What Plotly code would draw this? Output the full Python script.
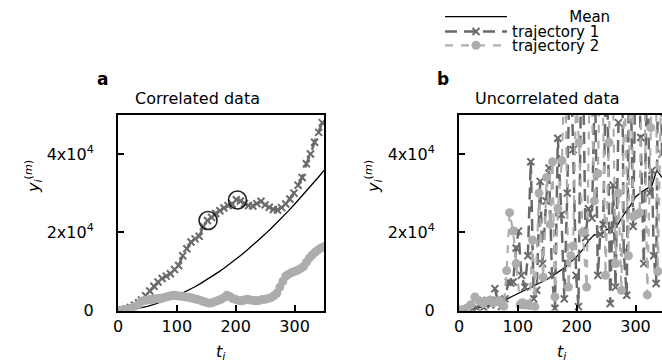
import plotly.graph_objects as go

# ---------------- data ----------------
# Panel a: correlated data
t_a1 = [0, 7, 14, 21, 28, 35, 40, 47, 54, 61, 68, 75, 82, 89, 96, 103, 110, 117, 124, 131,
        138, 145, 152, 159, 166, 173, 180, 187, 194, 201, 208, 215, 222, 229, 236, 243, 250,
        257, 264, 271, 278, 285, 292, 299, 306, 313, 320, 327, 334, 341, 347]
y_a1 = [0, 150, 400, 800, 1400, 2000, 2700, 3800, 5000, 6200, 7300, 8200, 8800, 9400, 10500,
        11500, 14000, 15800, 17500, 18300, 19000, 21500, 23000, 23800, 24800, 25500, 26200,
        26800, 27200, 28300, 28000, 27300, 26800, 26700, 27300, 27900, 27000, 26400, 25800,
        25700, 26300, 27200, 28500, 30000, 32000, 34000, 37500, 40000, 43000, 45500, 48000]

t_a2 = list(range(0, 351, 5))
y_a2 = [0, 100, 200, 300, 500, 800, 1200, 1600, 2400, 2600, 2700, 2800, 2900, 3000, 3100,
        3200, 3400, 3600, 3800, 3900, 3800, 3700, 3600, 3500, 3400, 3200, 3000, 2800, 2600,
        2300, 2100, 1900, 2000, 2300, 2600, 2900, 3300, 3900, 3600, 3100, 2800, 2600, 2500,
        2700, 2900, 2700, 2600, 2500, 2600, 2800, 2900, 3100, 3300, 3800, 4500, 6000, 7500,
        8800, 9300, 9700, 10000, 10300, 10700, 11200, 12300, 13400, 14200, 14900, 15500,
        16000, 16300]

t_mean_a = list(range(0, 351, 10))
y_mean_a = [0, 60, 210, 430, 720, 1080, 1500, 1980, 2510, 3100, 3750, 4460, 5220, 6030,
            6880, 7790, 8750, 9760, 10820, 11920, 13080, 14280, 15520, 16810, 18160, 19530,
            20970, 22440, 23950, 25530, 27140, 28790, 30480, 32200, 33980, 35800]

# highlighted points (circled) in panel a
t_hl = [153, 203]
y_hl = [23000, 28250]

# Panel b: uncorrelated data
t_b1 = [0, 5, 11, 17, 23, 30, 36, 42, 48, 54, 61, 66, 72, 78, 84, 88, 92, 97, 101, 106,
        112, 117, 122, 127, 132, 138, 142, 148, 153, 158, 163, 168, 174, 179, 184, 189,
        194, 199, 203, 209, 215, 220, 226, 231, 236, 240, 245, 251, 257, 262, 266, 271,
        276, 280, 285, 290, 296, 302, 309, 314, 320, 324, 328, 331, 335, 340, 345]
y_b1 = [0, 300, 200, 700, 400, 700, 1500, 800, 2600, 1500, 5600, 2500, 1000, 3000, 7300,
        7000, 7300, 16000, 20300, 9000, 6000, 14000, 38000, 3000, 5200, 33000, 12000,
        28000, 36400, 9000, 600, 44000, 24500, 3000, 30000, 70000, 41100, 9000, 1000,
        80000, 18600, 26000, 23600, 60000, 9000, 19500, 22000, 70000, 1800, 32000, 6000,
        48000, 90000, 15000, 3900, 75000, 21500, 85000, 44200, 12000, 65000, 30000, 35800,
        14000, 6900, 95000, 40000]

t_b2 = [0, 7, 13, 20, 27, 34, 41, 47, 53, 58, 64, 68, 72, 76, 81, 86, 92, 97, 104, 108,
        112, 116, 120, 125, 129, 136, 143, 149, 155, 159, 163, 168, 175, 180, 186, 190,
        194, 199, 204, 210, 217, 223, 230, 236, 242, 249, 255, 260, 266, 271, 276, 281,
        288, 292, 296, 302, 307, 313, 320, 326, 332, 338, 345]
y_b2 = [0, 300, 600, 1500, 3500, 2500, 1800, 2400, 2700, 2000, 2300, 2600, 1800, 1100,
        10200, 25000, 20300, 12000, 1500, 2000, 1400, 1600, 1300, 18000, 1000, 30000, 8500,
        34000, 22000, 38000, 3500, 26000, 38300, 65000, 6000, 14000, 16500, 55000, 42900,
        20000, 6000, 70000, 28000, 35000, 80000, 9000, 42900, 75000, 12000, 30000, 5200,
        60000, 14000, 90000, 24000, 24500, 25000, 85000, 4000, 46700, 100000, 10000, 70000]

t_mean_b = [0, 10, 20, 30, 40, 50, 60, 70, 80, 90, 100, 110, 120, 130, 140, 150, 160, 170,
            180, 190, 200, 210, 220, 230, 240, 250, 260, 270, 280, 290, 300, 310, 320, 328,
            336, 342, 345]
y_mean_b = [0, 100, 300, 600, 900, 1300, 1700, 2200, 2800, 3600, 4300, 5000, 5800, 6500,
            7200, 8000, 9000, 10000, 11000, 12400, 13800, 15500, 17800, 19400, 19100, 20600,
            21400, 22000, 24500, 26500, 29000, 30300, 31200, 32000, 35800, 34500, 34000]

x_ticks = [0, 100, 200, 300]
y_ticks = [0, 20000, 40000]
y_ticktext = ["0", "2x10<sup>4</sup>", "4x10<sup>4</sup>"]

# ---------------- style ----------------
FONT = "DejaVu Sans"
C1 = "#6a6a6a"
C2 = "#adadad"
W, H = 662, 363

def px(x):
    return x / W

def py(y):
    return (H - y) / H

fig = go.Figure()

def add_panel(xa, ya, tm, ym, t1, y1, t2, y2, show):
    fig.add_trace(go.Scatter(x=tm, y=ym, mode="lines", name="\u00a0" * 12 + "Mean",
                             line=dict(color="black", width=1.3), xaxis=xa, yaxis=ya,
                             showlegend=show, legend="legend"))
    fig.add_trace(go.Scatter(x=t1, y=y1, mode="lines+markers", name="trajectory 1",
                             line=dict(color=C1, width=2.5, dash="12px,7px"),
                             marker=dict(symbol="x-thin", size=7, line=dict(width=2, color=C1), color=C1),
                             xaxis=xa, yaxis=ya, showlegend=show, legend="legend2"))
    fig.add_trace(go.Scatter(x=t2, y=y2, mode="lines+markers", name="trajectory 2",
                             line=dict(color=C2, width=2.2, dash="8px,8px"),
                             marker=dict(symbol="circle", size=9, color=C2),
                             xaxis=xa, yaxis=ya, showlegend=show, legend="legend3"))

add_panel("x", "y", t_mean_a, y_mean_a, t_a1, y_a1, t_a2, y_a2, True)
fig.add_trace(go.Scatter(x=t_hl, y=y_hl, mode="markers", showlegend=False,
                         marker=dict(symbol="circle-open", size=18, color="#222222",
                                     line=dict(width=1.6, color="#222222")),
                         xaxis="x", yaxis="y"))
add_panel("x2", "y2", t_mean_b, y_mean_b, t_b1, y_b1, t_b2, y_b2, False)

ydom = [py(310), py(112)]
axis_common = dict(showline=True, linecolor="black", linewidth=2, ticks="inside",
                   ticklen=6, tickwidth=2, tickcolor="black", showgrid=False,
                   zeroline=False, automargin=False,
                   tickfont=dict(family=FONT, size=16, color="black"))

fig.update_layout(
    width=W, height=H, template="none",
    margin=dict(l=0, r=0, t=0, b=0),
    paper_bgcolor="white", plot_bgcolor="white",
    font=dict(family=FONT, size=16, color="black"),
    xaxis=dict(domain=[px(118), px(324)], range=[0, 350], tickvals=x_ticks,
               mirror=True, anchor="y", **axis_common),
    yaxis=dict(domain=ydom, range=[0, 50000], tickvals=y_ticks, ticktext=y_ticktext,
               mirror=True, anchor="x", ticklabelposition="outside",
               ticklabelstandoff=19, **axis_common),
    xaxis2=dict(domain=[px(459), 1.0], range=[0, 345], tickvals=x_ticks,
                mirror=True, anchor="y2", **axis_common),
    yaxis2=dict(domain=ydom, range=[0, 50000], tickvals=y_ticks, ticktext=y_ticktext,
                mirror=False, anchor="x2", ticklabelposition="outside",
                ticklabelstandoff=19, **axis_common),
)

leg_common = dict(x=px(440), xanchor="left", yanchor="middle", bgcolor="rgba(0,0,0,0)",
                  borderwidth=0, itemwidth=62, font=dict(family=FONT, size=15, color="black"))
fig.update_layout(
    legend=dict(y=py(13), **leg_common),
    legend2=dict(y=py(28), **leg_common),
    legend3=dict(y=py(42), **leg_common),
)

ann = []
ylab = "<i>y</i><sub><i>i</i></sub><sup>(<i>m</i>)</sup>"
xlab = "<i>t</i><sub><i>i</i></sub>"
for (x, y, text, kw) in [
    (102, 76, "<b>a</b>", dict(font=dict(size=17))),
    (443, 76, "<b>b</b>", dict(font=dict(size=17))),
    (197, 96, "Correlated data", {}),
    (547, 96, "Uncorrelated data", {}),
    (33, 175, ylab, dict(textangle=-90)),
    (373, 175, ylab, dict(textangle=-90)),
    (221, 352, xlab, {}),
    (562, 352, xlab, {}),
]:
    ann.append(dict(x=px(x), y=py(y), xref="paper", yref="paper", text=text,
                    showarrow=False, xanchor="center", yanchor="middle", **kw))
fig.update_layout(annotations=ann)

fig.write_html("out.html")
